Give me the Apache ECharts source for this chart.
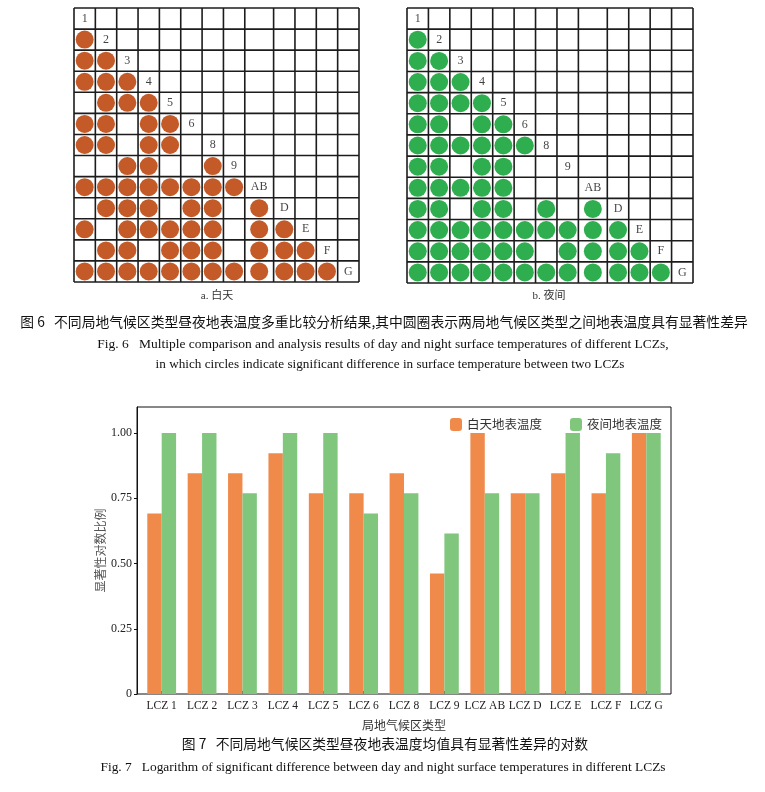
<!DOCTYPE html>
<html><head><meta charset="utf-8">
<script src="https://cdn.jsdelivr.net/npm/echarts@6/dist/echarts.min.js"></script>
<style>html,body{margin:0;padding:0;background:#fff}#c{width:765px;height:792px}</style>
</head><body><div id="c"></div>
<script>
// ---------- data ----------
const zoneLabels = ['1','2','3','4','5','6','8','9','AB','D','E','F','G'];
// lower-triangle significance matrices: row i lists columns 0..i-1 (1 = significant)
const dayRows = ['', '1', '11', '111', '0111', '11011', '110110', '0011001', '11111111',
  '011101101', '1011111011', '01101110111', '111111111111'];
const nightRows = ['', '1', '11', '111', '1111', '11011', '111111', '1101100', '11111000',
  '110110101', '1111111111', '11111101111', '111111111111'];
const barCategories = ['LCZ 1','LCZ 2','LCZ 3','LCZ 4','LCZ 5','LCZ 6','LCZ 8','LCZ 9','LCZ AB','LCZ D','LCZ E','LCZ F','LCZ G'];
const dayValues   = [0.692, 0.846, 0.846, 0.923, 0.769, 0.769, 0.846, 0.462, 1.000, 0.769, 0.846, 0.769, 1.000];
const nightValues = [1.000, 1.000, 0.769, 1.000, 1.000, 0.692, 0.769, 0.615, 0.769, 0.769, 1.000, 0.923, 1.000];
const yTicks = [0, 0.25, 0.5, 0.75, 1.0];

// ---------- layout helpers ----------
const WIDE = 8;           // AB column drawn wider
const WIDE_EXTRA = 0.35;
function colEdge(k){ return k <= WIDE ? k : k + WIDE_EXTRA; }
const N = zoneLabels.length;
const XMAX = colEdge(N);
function colCenter(j){ return (colEdge(j) + colEdge(j+1)) / 2; }

function circlePoints(rows){
  const pts = [];
  rows.forEach((r, i) => { for (let j = 0; j < r.length; j++) if (r[j] === '1') pts.push([colCenter(j), i + 0.5]); });
  return pts;
}
const diagPoints = zoneLabels.map((l, i) => ({ name: l, value: [colCenter(i), i + 0.5] }));

function renderGrid(params, api){
  const ch = [];
  const st = { stroke: '#1c1c1c', lineWidth: 1.6 };
  for (let k = 0; k <= N; k++) {
    const a = api.coord([colEdge(k), 0]), b = api.coord([colEdge(k), N]);
    ch.push({ type: 'line', shape: { x1: a[0], y1: a[1], x2: b[0], y2: b[1] }, style: st });
    const c = api.coord([0, k]), d = api.coord([XMAX, k]);
    ch.push({ type: 'line', shape: { x1: c[0], y1: c[1], x2: d[0], y2: d[1] }, style: st });
  }
  return { type: 'group', children: ch };
}

const SERIF = '"Liberation Serif","Times New Roman","Noto Sans CJK SC",serif';
const CJK = '"Noto Sans CJK SC","Liberation Serif",sans-serif';

function matrixAxes(idx){
  return {
    x: { type: 'value', gridIndex: idx, min: 0, max: XMAX, show: false },
    y: { type: 'value', gridIndex: idx, min: 0, max: N, inverse: true, show: false }
  };
}
const m0 = matrixAxes(0), m1 = matrixAxes(1);

function matrixSeries(idx, rows, color){
  return [
    { type: 'custom', xAxisIndex: idx, yAxisIndex: idx, data: [[0, 0]], renderItem: renderGrid, silent: true, z: 1, clip: false },
    { type: 'scatter', xAxisIndex: idx, yAxisIndex: idx, data: circlePoints(rows), symbolSize: 18,
      itemStyle: { color: color, opacity: 1 }, z: 3, silent: true },
    { type: 'scatter', xAxisIndex: idx, yAxisIndex: idx, data: diagPoints, symbolSize: 1,
      itemStyle: { color: 'rgba(0,0,0,0)' }, z: 4, silent: true,
      label: { show: true, position: 'inside', formatter: '{b}', color: '#111', fontSize: 12, fontFamily: SERIF } }
  ];
}

const PLOT_TOP = 407, PLOT_H = 287;
const chart = echarts.init(document.getElementById('c'), null, { renderer: 'canvas' });
const option = {
  animation: false,
  backgroundColor: '#fff',
  grid: [
    { left: 74, top: 8, width: 285, height: 274 },
    { left: 407, top: 8, width: 286, height: 275 },
    // frame + visible y axis
    { left: 137, top: PLOT_TOP, width: 534, height: PLOT_H, show: true, borderColor: '#111', borderWidth: 1, backgroundColor: 'rgba(0,0,0,0)' },
    // bars (category band slightly inset from the frame)
    { left: 141.5, top: PLOT_TOP, width: 525, height: PLOT_H }
  ],
  xAxis: [m0.x, m1.x,
    { type: 'value', gridIndex: 2, min: 0, max: 1, show: false },
    {
      type: 'category', gridIndex: 3, data: barCategories,
      axisLine: { show: false },
      axisTick: { show: true, inside: true, alignWithLabel: true, length: 3, lineStyle: { color: '#111' } },
      axisLabel: { color: '#222', fontSize: 11.5, fontFamily: SERIF, margin: 6, interval: 0 },
      name: '局地气候区类型', nameLocation: 'middle', nameGap: 25, nameMoveOverlap: false,
      nameTextStyle: { color: '#333', fontSize: 12, fontFamily: CJK }
    }],
  yAxis: [m0.y, m1.y, {
    type: 'value', gridIndex: 2, min: 0, max: 1.1, interval: 0.25,
    splitLine: { show: false },
    axisLine: { show: true, lineStyle: { color: '#111', width: 1 } },
    axisTick: { show: true, length: 3, lineStyle: { color: '#111' } },
    axisLabel: { color: '#222', fontSize: 12, fontFamily: SERIF, margin: 5, showMaxLabel: false,
      formatter: v => (yTicks.indexOf(v) < 0 ? '' : (v === 0 ? '0' : v.toFixed(2))) },
    name: '显著性对数比例', nameLocation: 'middle', nameGap: 31, nameRotate: 90, nameMoveOverlap: false,
    nameTextStyle: { color: '#555', fontSize: 12, fontFamily: CJK }
  }, {
    type: 'value', gridIndex: 3, min: 0, max: 1.1, interval: 0.25, show: false
  }],
  legend: {
    left: 445, top: 413, itemWidth: 12, itemHeight: 13, itemGap: 28,
    textStyle: { color: '#333', fontSize: 12.5, fontFamily: CJK },
    data: ['白天地表温度', '夜间地表温度']
  },
  series: [
    ...matrixSeries(0, dayRows, '#C45A28'),
    ...matrixSeries(1, nightRows, '#2EAE4F'),
    { name: '白天地表温度', type: 'bar', xAxisIndex: 3, yAxisIndex: 3, data: dayValues, barWidth: 14.4, barGap: '0%', itemStyle: { color: '#F08A4B' } },
    { name: '夜间地表温度', type: 'bar', xAxisIndex: 3, yAxisIndex: 3, data: nightValues, barWidth: 14.4, barGap: '0%', itemStyle: { color: '#80C67D' } }
  ],
  graphic: [
    { type: 'text', x: 217, y: 296, style: { text: 'a. 白天', fill: '#333', font: '11px ' + SERIF, textAlign: 'center', textVerticalAlign: 'middle' } },
    { type: 'text', x: 549, y: 296, style: { text: 'b. 夜间', fill: '#333', font: '11px ' + SERIF, textAlign: 'center', textVerticalAlign: 'middle' } },
    { type: 'text', x: 384, y: 322, style: { text: '图 6   不同局地气候区类型昼夜地表温度多重比较分析结果,其中圆圈表示两局地气候区类型之间地表温度具有显著性差异', fill: '#111', font: '13.8px ' + CJK, textAlign: 'center', textVerticalAlign: 'middle' } },
    { type: 'text', x: 383, y: 344, style: { text: 'Fig. 6   Multiple comparison and analysis results of day and night surface temperatures of different LCZs,', fill: '#111', font: '13.5px ' + SERIF, textAlign: 'center', textVerticalAlign: 'middle' } },
    { type: 'text', x: 390, y: 365, style: { text: 'in which circles indicate significant difference in surface temperature between two LCZs', fill: '#111', font: '13.2px ' + SERIF, textAlign: 'center', textVerticalAlign: 'middle' } },
    { type: 'text', x: 385, y: 744, style: { text: '图 7   不同局地气候区类型昼夜地表温度均值具有显著性差异的对数', fill: '#111', font: '13.8px ' + CJK, textAlign: 'center', textVerticalAlign: 'middle' } },
    { type: 'text', x: 383, y: 767, style: { text: 'Fig. 7   Logarithm of significant difference between day and night surface temperatures in different LCZs', fill: '#111', font: '13.4px ' + SERIF, textAlign: 'center', textVerticalAlign: 'middle' } }
  ]
};
chart.setOption(option);
</script>
</body></html>
